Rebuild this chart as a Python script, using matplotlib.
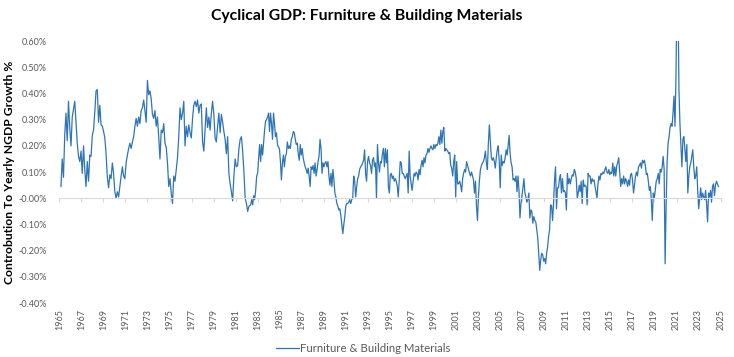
import pandas as pd
import numpy as np
import matplotlib.pyplot as plt
import matplotlib.dates as mdates

plt.rcParams['font.family'] = ['Lato', 'DejaVu Sans']

title = "Cyclical GDP: Furniture & Building Materials"
series_name = "Furniture & Building Materials"
ylabel = "Controbution To Yearly NGDP Growth %"

# values in percent in three stretches
seg1_span = ("1965-02-25", "1982-03-17")
seg1_values = [
    0.045, 0.15, 0.08, 0.24, 0.325, 0.22, 0.37, 0.27, 0.20, 0.31, 0.34, 0.37, 0.29, 0.21, 0.16, 0.14,
    0.18, 0.095, 0.20, 0.11, 0.045, 0.14, 0.065, 0.165, 0.16, 0.24, 0.26, 0.33, 0.41, 0.415, 0.29, 0.355,
    0.28, 0.275, 0.255, 0.23, 0.17, 0.08, 0.04, 0.09, 0.075, 0.135, 0.095, 0.025, 0.0, 0.025, 0.005, 0.045,
    0.085, 0.12, 0.085, 0.075, 0.135, 0.165, 0.19, 0.21, 0.19, 0.215, 0.235, 0.275, 0.305, 0.275, 0.31, 0.285,
    0.335, 0.345, 0.375, 0.335, 0.29, 0.45, 0.395, 0.41, 0.38, 0.32, 0.305, 0.335, 0.275, 0.31, 0.235, 0.15,
    0.26, 0.25, 0.285, 0.21, 0.195, 0.135, 0.045, 0.075, 0.02, -0.02, 0.085, 0.065, 0.11, 0.155, 0.235, 0.345,
    0.30, 0.325, 0.37, 0.20, 0.275, 0.235, 0.28, 0.25, 0.23, 0.305, 0.355, 0.37, 0.35, 0.375, 0.325, 0.355,
    0.36, 0.215, 0.18, 0.26, 0.345, 0.27, 0.31, 0.26, 0.325, 0.37, 0.32, 0.23, 0.215, 0.275, 0.325, 0.25,
    0.32, 0.29, 0.255, 0.225, 0.17, 0.235, 0.095, 0.055, 0.025, -0.01, 0.085, 0.15, 0.12, 0.125, 0.19, 0.225,
    0.235, 0.18, 0.10, 0.0, -0.02, -0.05, -0.03,
]

seg2_span = ("1982-05-15", "2004-01-08")
seg2_values = [
    -0.025, -0.005, -0.025, 0.01, -0.005, 0.03, 0.085, 0.095, 0.155, 0.205, 0.14, 0.205, 0.165, 0.215, 0.26, 0.295,
    0.30, 0.31, 0.325, 0.255, 0.325, 0.285, 0.225, 0.325, 0.285, 0.235, 0.25, 0.205, 0.195, 0.19, 0.14, 0.07,
    0.135, 0.165, 0.12, 0.16, 0.17, 0.215, 0.19, 0.20, 0.19, 0.225, 0.235, 0.255, 0.25, 0.225, 0.205, 0.21,
    0.17, 0.145, 0.205, 0.165, 0.19, 0.155, 0.135, 0.12, 0.11, 0.095, 0.115, 0.085, 0.045, 0.12, 0.11, 0.125,
    0.095, 0.135, 0.085, 0.11, 0.14, 0.16, 0.225, 0.19, 0.095, 0.135, 0.12, 0.135, 0.14, 0.12, 0.14, 0.085,
    0.05, 0.095, 0.045, 0.11, 0.07, 0.02, 0.005, -0.02, -0.03, -0.045, -0.04, -0.065, -0.10, -0.135, -0.10, -0.07,
    -0.03, -0.02, -0.02, -0.015, -0.005, -0.02, -0.005, 0.0, 0.085, 0.065, 0.005, 0.045, 0.075, 0.085, 0.11, 0.12,
    0.125, 0.135, 0.145, 0.185, 0.095, 0.065, 0.14, 0.16, 0.135, 0.125, 0.095, 0.145, 0.155, 0.12, 0.135, 0.0,
    0.205, 0.135, 0.10, 0.14, 0.135, 0.17, 0.19, 0.12, 0.19, 0.135, 0.185, 0.045, 0.02, 0.09, 0.095, 0.075,
    0.085, 0.065, 0.075, 0.065, 0.045, 0.005, 0.07, 0.14, 0.135, 0.095, 0.095, 0.085, 0.075, 0.085, 0.095, 0.02,
    0.18, 0.085, 0.055, 0.03, 0.065, 0.095, 0.085, 0.10, 0.095, 0.07, 0.11, 0.09, 0.125, 0.145, 0.12, 0.155,
    0.135, 0.165, 0.17, 0.19, 0.175, 0.19, 0.20, 0.19, 0.185, 0.205, 0.19, 0.205, 0.20, 0.21, 0.235, 0.205,
    0.26, 0.21, 0.255, 0.27, 0.18, 0.19, 0.185, 0.18, 0.17, 0.175, 0.125, 0.115, 0.085, 0.14, 0.165, 0.005,
    0.14, 0.055, 0.055, 0.065, 0.05, 0.025, 0.075, 0.095, 0.11, 0.10, 0.14, 0.125, 0.11, 0.095, 0.085, 0.10,
    0.085, 0.07, 0.02, 0.065, -0.03, -0.085, 0.01, 0.07, 0.11, 0.125, 0.135, 0.14, 0.155, 0.18, 0.135, 0.11,
    0.21, 0.28,
]

seg3_span = ("2004-02-10", "2024-10-20")
seg3_values = [
    0.215, 0.155, 0.145, 0.155, 0.14, 0.115, 0.155, 0.185, 0.20, 0.14, 0.04, 0.165, 0.125, 0.14, 0.135, 0.155,
    0.185, 0.165, 0.20, 0.24, 0.17, 0.135, 0.12, 0.07, 0.075, 0.065, 0.085, 0.025, 0.085, 0.03, -0.075, -0.02,
    0.01, 0.04, 0.075, 0.02, 0.005, -0.015, -0.005, 0.02, -0.075, -0.045, -0.05, -0.095, -0.07, -0.085, -0.09, -0.12,
    -0.15, -0.21, -0.275, -0.235, -0.21, -0.215, -0.24, -0.23, -0.25, -0.21, -0.185, -0.145, -0.12, -0.025, -0.03, -0.085,
    -0.02, 0.07, 0.12, -0.04, 0.04, 0.04, 0.075, 0.09, 0.02, 0.075, 0.025, 0.03, 0.02, -0.045, 0.095, 0.055,
    0.075, 0.055, 0.075, 0.09, 0.085, 0.11, 0.10, 0.075, 0.0, 0.02, 0.05, 0.025, 0.065, -0.02, 0.07, 0.045,
    0.05, 0.045, -0.025, 0.095, 0.085, 0.085, 0.055, 0.075, 0.065, 0.07, 0.045, 0.025, 0.0, 0.055, 0.085, 0.07,
    0.095, 0.09, 0.10, 0.095, 0.11, 0.12, 0.10, 0.095, 0.11, 0.09, 0.10, 0.095, 0.135, 0.085, 0.12, 0.085,
    0.125, 0.135, 0.155, 0.10, 0.045, 0.075, 0.055, 0.085, 0.055, 0.075, 0.065, 0.045, 0.07, 0.05, 0.09, 0.095,
    0.07, 0.02, 0.05, 0.085, 0.10, 0.085, 0.12, 0.125, 0.135, 0.115, 0.145, 0.135, 0.145, 0.125, 0.09, 0.095,
    0.065, 0.03, 0.045, -0.005, -0.085, 0.02, 0.0, 0.03, 0.065, 0.075, 0.095, 0.055, 0.11, 0.10, 0.12, 0.16,
    0.11, -0.25, -0.03, 0.135, 0.21, 0.235, 0.27, 0.285, 0.275, 0.325, 0.39, 0.275, 0.465, 0.80, 0.80, 0.415,
    0.285, 0.20, 0.12, 0.225, 0.235, 0.185, 0.14, 0.205, 0.02, 0.085, 0.12, 0.135, 0.16, 0.185, 0.12, 0.075,
    0.085, 0.12, 0.03, -0.04, 0.0, 0.04, -0.005, 0.02, 0.005, -0.005, 0.03, -0.02, -0.09, 0.02, 0.005, 0.03,
    -0.015, 0.045, 0.055, 0.01, 0.05, 0.065, 0.055, 0.045,
]

tick_years = list(range(1965, 2026, 2))


def pct_formatter(x, pos):
    return "%.2f%%" % x


def build_series():
    parts = []
    for span, vals in [(seg1_span, seg1_values), (seg2_span, seg2_values), (seg3_span, seg3_values)]:
        idx = pd.date_range(span[0], span[1], periods=len(vals))
        parts.append(pd.Series(vals, index=idx))
    return pd.concat(parts)


s = build_series()

fig = plt.figure(figsize=(7.34, 3.57), dpi=100)
ax = fig.add_axes([0.0808, 0.151, 0.901, 0.734])

ax.plot(s.index, s.values, color='#2E75B6', lw=0.9, label=series_name)

ax.set_ylim(-0.4, 0.6)
ax.set_yticks(np.arange(-0.4, 0.61, 0.1))
ax.yaxis.set_major_formatter(pct_formatter)
ax.tick_params(axis='y', length=0, pad=9, labelsize=6.5, labelcolor='#595959')

tick_dates = [pd.Timestamp("%d-01-01" % y) for y in tick_years]
ax.set_xlim(tick_dates[0], tick_dates[-1])
ax.set_xticks(tick_dates)

for side in ['top', 'right', 'left']:
    ax.spines[side].set_visible(False)
ax.spines['bottom'].set_position(('data', 0))
ax.spines['bottom'].set_color('#D9D9D9')
ax.tick_params(axis='x', length=3, color='#D9D9D9', labelbottom=False)

# year labels sit at the bottom of the plot area, not on the zero line
sec = ax.secondary_xaxis(0)
sec.set_xticks(mdates.date2num(tick_dates), labels=[str(y) for y in tick_years])
sec.tick_params(length=0, pad=4, labelsize=6.5, labelcolor='#595959', labelrotation=90)
sec.spines['bottom'].set_visible(False)

fig.text(0.013, 0.518, ylabel, rotation=90, ha='center', va='center', fontsize=8.7, fontweight='bold')
fig.text(0.5, 0.955, title, ha='center', va='center', fontsize=11.3, fontweight='bold')

fig.legend(loc='center', bbox_to_anchor=(0.495, 0.025), frameon=False, fontsize=8.2,
           handlelength=2.0, handletextpad=0.1, labelcolor='#595959')

fig.savefig("out.png", dpi=100)
